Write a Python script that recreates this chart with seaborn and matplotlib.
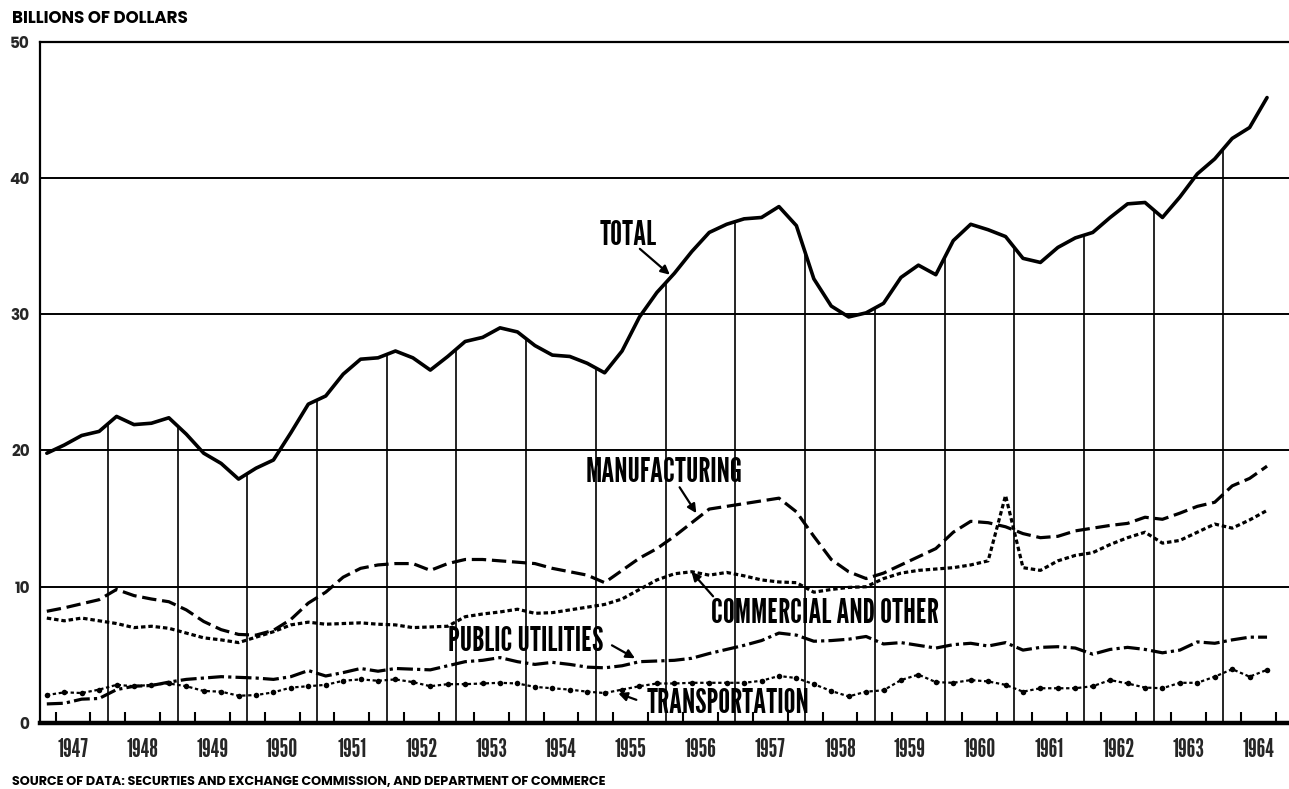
import numpy as np
import pandas as pd
import matplotlib
matplotlib.use("Agg")
import matplotlib.pyplot as plt
import seaborn as sns

# quarterly values, billions of dollars, 1947 Q1 .. 1964 Q3
total = [19.8, 20.4, 21.1, 21.4, 22.5, 21.9, 22.0, 22.4, 21.2, 19.8,
         19.05, 17.9, 18.7, 19.3, 21.3, 23.4, 24.0, 25.6, 26.7, 26.8,
         27.3, 26.8, 25.9, 26.9, 28.0, 28.3, 29.0, 28.7, 27.7, 27.0,
         26.9, 26.4, 25.7, 27.3, 29.8, 31.6, 33.0, 34.6, 36.0, 36.6,
         37.0, 37.1, 37.9, 36.5, 32.6, 30.6, 29.8, 30.1, 30.8, 32.7,
         33.6, 32.9, 35.4, 36.6, 36.2, 35.7, 34.1, 33.8, 34.9, 35.6,
         36.0, 37.1, 38.1, 38.2, 37.1, 38.6, 40.3, 41.4, 42.9, 43.7,
         45.9]
manufacturing = [8.2, 8.45, 8.75, 9.05, 9.8, 9.35, 9.1, 8.9, 8.3, 7.45,
                 6.85, 6.5, 6.45, 6.8, 7.6, 8.8, 9.6, 10.7, 11.35, 11.6,
                 11.7, 11.7, 11.2, 11.7, 12.0, 12.0, 11.9, 11.8, 11.7, 11.35,
                 11.1, 10.85, 10.3, 11.2, 12.1, 12.8, 13.7, 14.7, 15.7, 15.9,
                 16.1, 16.3, 16.5, 15.5, 13.7, 12.0, 11.1, 10.6, 11.0, 11.6,
                 12.2, 12.8, 14.0, 14.8, 14.7, 14.4, 13.9, 13.6, 13.7, 14.1,
                 14.3, 14.5, 14.65, 15.1, 14.95, 15.4, 15.9, 16.2, 17.4, 17.95,
                 18.85]
commercial = [7.7, 7.5, 7.7, 7.5, 7.3, 7.0, 7.1, 6.95, 6.6, 6.25,
              6.1, 5.9, 6.3, 6.7, 7.2, 7.4, 7.25, 7.3, 7.35, 7.25,
              7.2, 7.0, 7.05, 7.1, 7.8, 8.0, 8.15, 8.35, 8.05, 8.1,
              8.3, 8.5, 8.7, 9.1, 9.8, 10.5, 10.95, 11.1, 10.85, 11.05,
              10.8, 10.5, 10.35, 10.3, 9.6, 9.8, 9.95, 10.0, 10.6, 11.0,
              11.2, 11.3, 11.4, 11.6, 11.9, 16.7, 11.4, 11.2, 11.9, 12.3,
              12.5, 13.1, 13.6, 14.0, 13.2, 13.4, 14.0, 14.6, 14.3, 14.9,
              15.6]
utilities = [1.4, 1.45, 1.75, 1.8, 2.45, 2.7, 2.75, 3.0, 3.2, 3.3,
             3.4, 3.35, 3.3, 3.2, 3.4, 3.85, 3.45, 3.7, 4.0, 3.8,
             4.0, 3.95, 3.9, 4.2, 4.5, 4.6, 4.8, 4.5, 4.3, 4.45,
             4.3, 4.1, 4.05, 4.2, 4.5, 4.55, 4.6, 4.75, 5.1, 5.4,
             5.7, 6.05, 6.6, 6.45, 6.0, 6.05, 6.15, 6.35, 5.8, 5.9,
             5.7, 5.5, 5.75, 5.85, 5.65, 5.9, 5.35, 5.55, 5.6, 5.5,
             5.05, 5.4, 5.55, 5.4, 5.15, 5.35, 5.95, 5.85, 6.1, 6.3,
             6.3]
transportation = [2.05, 2.25, 2.2, 2.45, 2.8, 2.7, 2.8, 2.9, 2.7, 2.35,
                  2.3, 2.0, 2.05, 2.25, 2.6, 2.7, 2.8, 3.1, 3.2, 3.1,
                  3.2, 3.0, 2.7, 2.85, 2.85, 2.9, 2.95, 2.9, 2.65, 2.55,
                  2.45, 2.3, 2.2, 2.45, 2.7, 2.9, 2.9, 2.95, 2.95, 2.95,
                  2.95, 3.1, 3.45, 3.3, 2.85, 2.35, 1.95, 2.3, 2.4, 3.15,
                  3.55, 3.0, 2.95, 3.15, 3.05, 2.8, 2.3, 2.55, 2.55, 2.55,
                  2.7, 3.15, 2.9, 2.6, 2.55, 2.95, 2.95, 3.4, 3.95, 3.4,
                  3.9]
years = list(range(1947, 1965))

# label text, label centre, arrow start, arrow tip (data coords)
labels = [
    ("TOTAL", (1955.46, 35.8), (1955.63, 34.8), (1956.06, 32.9)),
    ("MANUFACTURING", (1955.98, 18.4), (1956.20, 17.3), (1956.44, 15.4)),
    ("COMMERCIAL AND OTHER", (1958.29, 8.05), (1956.68, 9.3), (1956.37, 11.1)),
    ("PUBLIC UTILITIES", (1953.99, 6.0), (1955.23, 5.7), (1955.56, 4.75)),
    ("TRANSPORTATION", (1956.89, 1.4), (1955.58, 1.7), (1955.32, 2.18)),
]

quarter = 1947 + (np.arange(len(total)) + 0.5) / 4
df = pd.DataFrame({"quarter": quarter, "total": total,
                   "manufacturing": manufacturing, "commercial": commercial,
                   "utilities": utilities, "transportation": transportation})

sns.set_theme(style="white")
gothic = ["League Gothic", "Oswald", "DejaVu Sans"]
geo = ["Poppins", "DejaVu Sans"]

fig = plt.figure(figsize=(12.89, 7.89), dpi=100)
ax = fig.add_axes([39.5 / 1289, 1 - 723 / 789, 1 - 39.5 / 1289, (723 - 41.7) / 789])

lw = 2.3
sns.lineplot(data=df, x="quarter", y="total", ax=ax, color="black", lw=lw + 0.3)
sns.lineplot(data=df, x="quarter", y="manufacturing", ax=ax, color="black",
             lw=lw, linestyle=(0, (4.5, 1.8)))
sns.lineplot(data=df, x="quarter", y="commercial", ax=ax, color="black",
             lw=lw, linestyle=(0, (1.4, 0.9)))
sns.lineplot(data=df, x="quarter", y="utilities", ax=ax, color="black",
             lw=lw, linestyle=(0, (5, 1.3, 1, 1.3)))
sns.lineplot(data=df, x="quarter", y="transportation", ax=ax, color="black",
             lw=1.6, linestyle=(0, (1.5, 1.2)), marker="o", markersize=4,
             markeredgewidth=0)

# year dividers drop from the total curve down to the axis
div = np.array(years[1:], dtype=float)
ax.vlines(div, 0, np.interp(div, quarter, total), color="black", lw=1.2, zorder=1)
for v in (10, 20, 30, 40):
    ax.axhline(v, color="black", lw=1.4, zorder=1)

ax.set_xlim(1947.02, 1964.94)
ax.set_ylim(0, 50)
ax.set_xlabel("")
ax.set_ylabel("")

ax.set_xticks([y + 0.5 for y in years])
ax.set_xticklabels([str(y) for y in years], family=gothic, fontsize=18)
qt = [y + q / 4 for y in years for q in (1, 2, 3)]
ax.set_xticks(qt, minor=True)
ax.tick_params(axis="x", which="major", length=0, pad=11)
ax.tick_params(axis="x", which="minor", direction="in", length=8, width=1.5,
               color="black", bottom=True)
ax.set_yticks([0, 10, 20, 30, 40, 50])
ax.set_yticklabels(["0", "10", "20", "30", "40", "50"], family=geo,
                   fontweight="bold", fontsize=11)
ax.tick_params(axis="y", length=0, pad=7)

ax.spines["right"].set_visible(False)
ax.spines["left"].set_linewidth(1.6)
ax.spines["top"].set_linewidth(1.6)
ax.spines["bottom"].set_linewidth(3.2)
for side in ("left", "top", "bottom"):
    ax.spines[side].set_color("black")

for text, pos, start, tip in labels:
    ax.text(pos[0], pos[1], text, ha="center", va="center", family=gothic,
            fontsize=24, color="black")
    ax.annotate("", xy=tip, xytext=start,
                arrowprops=dict(arrowstyle="-|>", color="black", lw=1.6,
                                mutation_scale=13, shrinkA=0, shrinkB=0))

fig.text(12 / 1289, 1 - 19 / 789, "BILLIONS OF DOLLARS", ha="left", va="center",
         family=geo, fontweight="bold", fontsize=12, color="black")
fig.text(12 / 1289, 1 - 782 / 789,
         "SOURCE OF DATA: SECURTIES AND EXCHANGE COMMISSION, AND DEPARTMENT OF COMMERCE",
         ha="left", va="center", family=geo, fontweight="bold", fontsize=9.2,
         color="black")

fig.savefig("out.png", dpi=100)
